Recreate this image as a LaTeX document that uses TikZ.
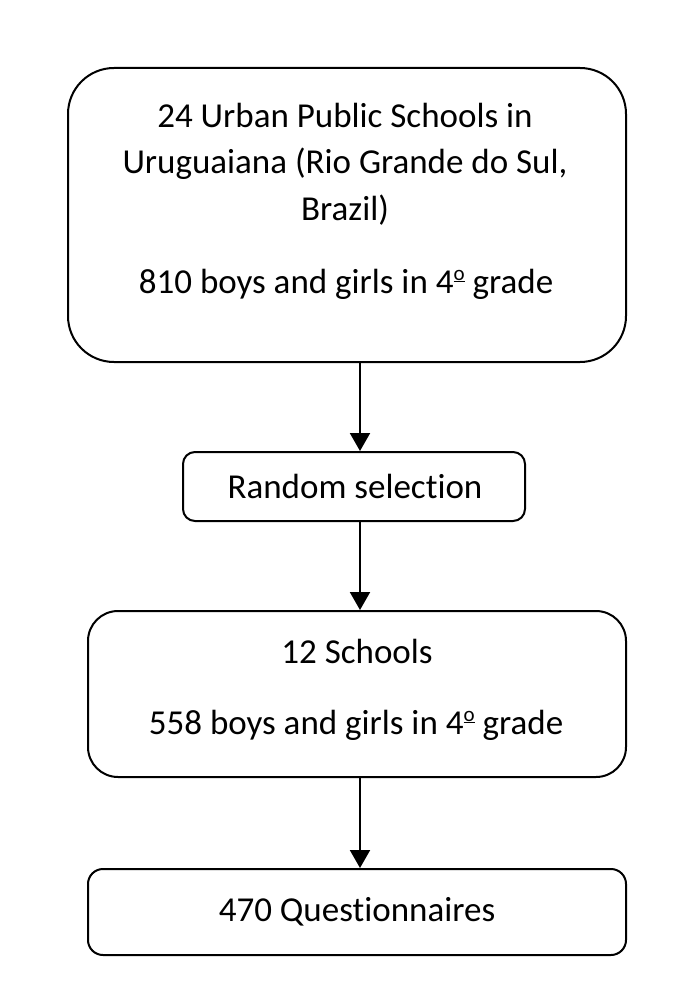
\documentclass[tikz,border=0pt]{standalone}
\usepackage{fontspec}
\setmainfont[RawFeature={-liga;-clig}]{Carlito}
\usetikzlibrary{arrows.meta}
\newcommand\ordsym{\raisebox{13pt}{\fontsize{21}{21}\selectfont\underline{o}}}
\begin{document}
\begin{tikzpicture}[x=1pt,y=-1pt,
  box/.style={draw=black,line width=2pt,inner sep=0pt,fill=white},
  txt/.style={anchor=base,inner sep=0pt,font=\fontsize{35}{42}\selectfont},
  arr/.style={line width=2pt,-{Triangle[length=18pt,width=20pt]}}]
\useasboundingbox[fill=white] (0,0) rectangle (679,1000);
\node[box,rounded corners=46pt,minimum width=558pt,minimum height=294pt] (b1) at (347,215) {};
\node[box,rounded corners=12pt,minimum width=342pt,minimum height=69pt] (b2) at (354,486.5) {};
\node[box,rounded corners=30pt,minimum width=538pt,minimum height=166pt] (b3) at (357,694) {};
\node[box,rounded corners=15pt,minimum width=538pt,minimum height=86pt] (b4) at (357,912) {};
\coordinate (ax) at (360,0);
\draw[arr] (b1.south -| ax) -- (b2.north -| ax);
\draw[arr] (b2.south -| ax) -- (b3.north -| ax);
\draw[arr] (b3.south -| ax) -- (b4.north -| ax);
\node[txt] (t1) at (345,128) {24 Urban Public Schools in};
\node[txt] (t2) at (345,174) {Uruguaiana (Rio Grande do Sul,};
\node[txt] (t3) at (345,221) {Brazil)};
\node[txt] (t4) at (346,293) {810 boys and girls in 4\ordsym{} grade};
\node[txt] (t5) at (355,498) {Random selection};
\node[txt] (t6) at (357,663) {12 Schools};
\node[txt] (t7) at (356,734) {558 boys and girls in 4\ordsym{} grade};
\node[txt] (t8) at (357,921) {470 Questionnaires};
\end{tikzpicture}
\end{document}
